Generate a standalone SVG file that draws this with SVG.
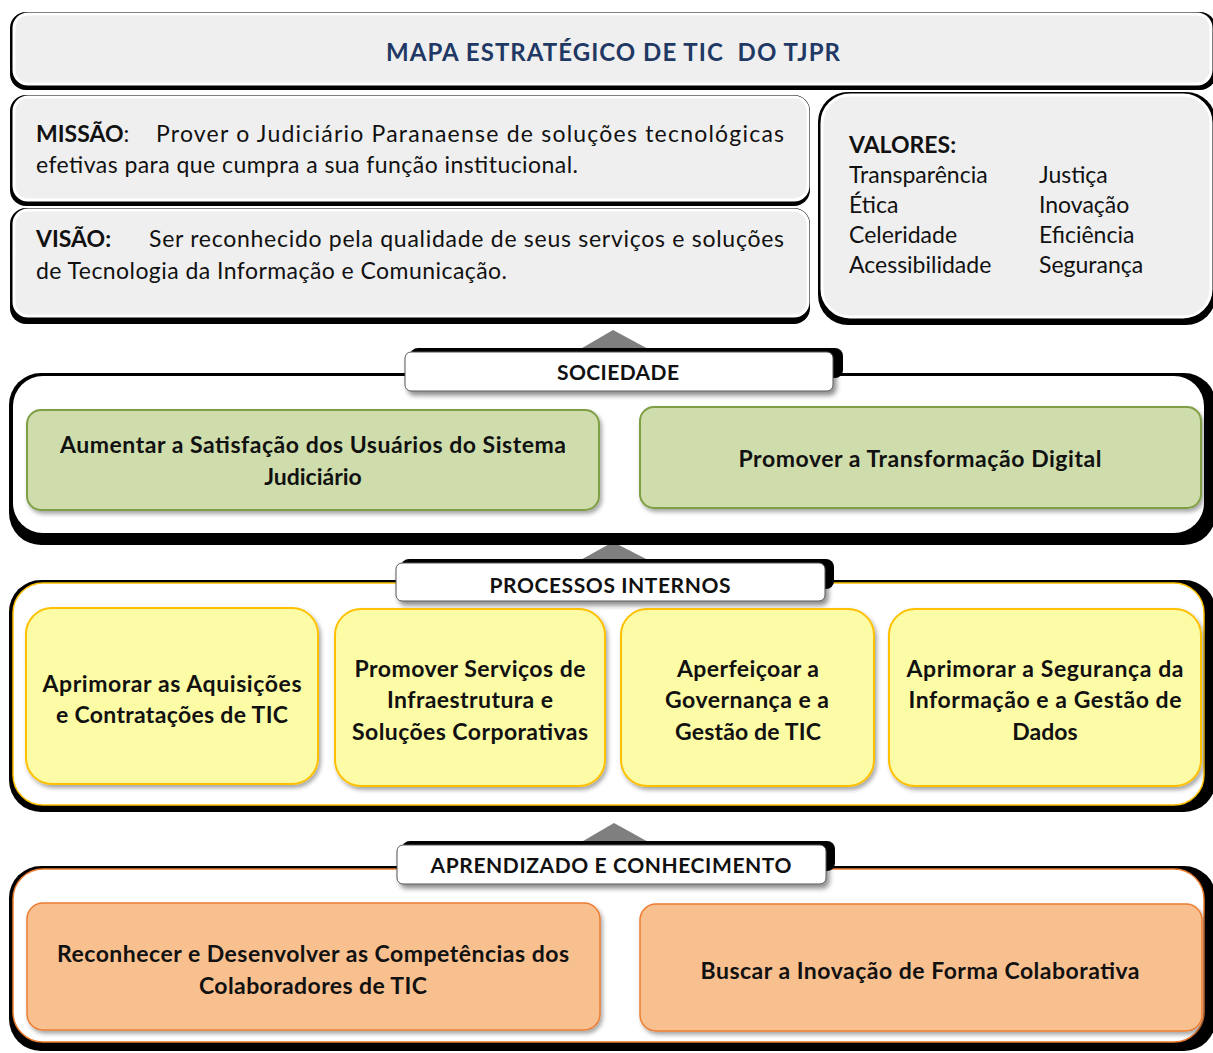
<svg xmlns="http://www.w3.org/2000/svg" width="1213" height="1053" viewBox="0 0 1213 1053">
<defs>
<filter id="soft" x="-5%" y="-10%" width="115%" height="130%">
<feDropShadow dx="2" dy="3" stdDeviation="2" flood-color="#000" flood-opacity="0.35"/>
</filter>
<filter id="lbl" x="-5%" y="-20%" width="115%" height="160%">
<feDropShadow dx="3" dy="4" stdDeviation="2.5" flood-color="#000" flood-opacity="0.45"/>
</filter>
</defs>
<style>
text{font-family:Lato,"Liberation Sans",sans-serif;fill:#111}
.b{font-weight:bold}
.t{font-size:23px}
.tb{font-size:23px;font-weight:bold}
.cap{font-size:21px;font-weight:bold}
.c{text-anchor:middle}
.sh{fill:#000}
.gray{fill:#efefef;stroke:#fff;stroke-width:3}
.panel{fill:#fff}
.lbl{fill:#fff;stroke:#555;stroke-width:1}
.green{fill:#cfddac;stroke:#7f9f45;stroke-width:2}
.yellow{fill:#fdfca6;stroke:#fec000;stroke-width:2}
.orange{fill:#f8c08f;stroke:#ec7d32;stroke-width:1.5}
.arrow{fill:#7f7f7f}
</style>
<rect width="1213" height="1053" fill="#fff"/>

<g id="header">
<rect class="sh" x="10" y="12" width="1206" height="78" rx="16"/>
<rect class="gray" x="14" y="14" width="1197" height="70" rx="14"/>
<text class="b c" x="613" y="61" font-size="24" style="fill:#1f3864" textLength="454" lengthAdjust="spacing">MAPA ESTRATÉGICO DE TIC&#160; DO TJPR</text>
</g>

<g id="missao">
<rect class="sh" x="10" y="95" width="800" height="111" rx="16"/>
<rect class="gray" x="14" y="97" width="794" height="103" rx="14"/>
<text class="t b" x="36" y="142">MISSÃO<tspan font-weight="normal">:</tspan></text>
<text class="t" x="156" y="142" textLength="628" lengthAdjust="spacing">Prover o Judiciário Paranaense de soluções tecnológicas</text>
<text class="t" x="36" y="173" textLength="542" lengthAdjust="spacing">efetivas para que cumpra a sua função institucional.</text>
</g>

<g id="visao">
<rect class="sh" x="10" y="208" width="800" height="116" rx="16"/>
<rect class="gray" x="14" y="210" width="794" height="106" rx="14"/>
<text class="t b" x="36" y="247">VISÃO:</text>
<text class="t" x="149" y="247" textLength="635" lengthAdjust="spacing">Ser reconhecido pela qualidade de seus serviços e soluções</text>
<text class="t" x="36" y="279" textLength="471" lengthAdjust="spacing">de Tecnologia da Informação e Comunicação.</text>
</g>

<g id="valores">
<rect class="sh" x="818" y="92" width="398" height="233" rx="30"/>
<rect class="gray" x="822" y="95" width="389" height="222" rx="28"/>
<text class="t b" x="849" y="153">VALORES:</text>
<text class="t" x="849" y="183">Transparência</text>
<text class="t" x="849" y="213">Ética</text>
<text class="t" x="849" y="243">Celeridade</text>
<text class="t" x="849" y="273">Acessibilidade</text>
<text class="t" x="1039" y="183">Justiça</text>
<text class="t" x="1039" y="213">Inovação</text>
<text class="t" x="1039" y="243">Eficiência</text>
<text class="t" x="1039" y="273">Segurança</text>
</g>

<g id="connectors">
<polygon class="arrow" points="577,351 613,330 652,351"/>
<polygon class="arrow" points="577,562 613,542 652,562"/>
<polygon class="arrow" points="578,844 614,823 652,844"/>
</g>

<g id="sociedade">
<rect class="sh" x="9" y="373" width="1207" height="172" rx="32"/>
<rect class="panel" x="13" y="376" width="1191" height="157" rx="30"/>
<rect class="sh" x="410" y="348" width="433" height="30" rx="8"/>
<rect class="lbl" x="405" y="352" width="428" height="39" rx="6" filter="url(#lbl)"/>
<text class="cap c" x="618" y="380" textLength="122" lengthAdjust="spacing">SOCIEDADE</text>
</g>
<g id="obj-satisfacao">
<rect class="green" x="27" y="410" width="572" height="100" rx="14" filter="url(#soft)"/>
<text class="tb c" x="313" y="453" textLength="506" lengthAdjust="spacing">Aumentar a Satisfação dos Usuários do Sistema</text>
<text class="tb c" x="313" y="485">Judiciário</text>
</g>
<g id="obj-transformacao">
<rect class="green" x="640" y="407" width="561" height="101" rx="14" filter="url(#soft)"/>
<text class="tb c" x="920" y="467" textLength="363" lengthAdjust="spacing">Promover a Transformação Digital</text>
</g>

<g id="processos">
<rect class="sh" x="9" y="580" width="1207" height="232" rx="32"/>
<rect class="panel" x="13" y="583" width="1191" height="222" rx="30" stroke="#fec000" stroke-width="1.5"/>
<rect class="sh" x="401" y="559" width="433" height="30" rx="8"/>
<rect class="lbl" x="396" y="563" width="429" height="38" rx="6" filter="url(#lbl)"/>
<text class="cap c" x="610" y="593" textLength="241" lengthAdjust="spacing">PROCESSOS INTERNOS</text>
</g>
<g id="obj-aquisicoes">
<rect class="yellow" x="26" y="608" width="292" height="176" rx="26" filter="url(#soft)"/>
<text class="tb c" x="172" y="692" textLength="259" lengthAdjust="spacing">Aprimorar as Aquisições</text>
<text class="tb c" x="172" y="723" textLength="232" lengthAdjust="spacing">e Contratações de TIC</text>
</g>
<g id="obj-infraestrutura">
<rect class="yellow" x="335" y="609" width="270" height="177" rx="26" filter="url(#soft)"/>
<text class="tb c" x="470" y="677" textLength="231" lengthAdjust="spacing">Promover Serviços de</text>
<text class="tb c" x="470" y="708" textLength="166" lengthAdjust="spacing">Infraestrutura e</text>
<text class="tb c" x="470" y="740" textLength="236" lengthAdjust="spacing">Soluções Corporativas</text>
</g>
<g id="obj-governanca">
<rect class="yellow" x="621" y="609" width="253" height="177" rx="26" filter="url(#soft)"/>
<text class="tb c" x="748" y="677" textLength="142" lengthAdjust="spacing">Aperfeiçoar a</text>
<text class="tb c" x="747" y="708" textLength="164" lengthAdjust="spacing">Governança e a</text>
<text class="tb c" x="748" y="740" textLength="146" lengthAdjust="spacing">Gestão de TIC</text>
</g>
<g id="obj-seguranca">
<rect class="yellow" x="889" y="609" width="312" height="177" rx="26" filter="url(#soft)"/>
<text class="tb c" x="1045" y="677" textLength="277" lengthAdjust="spacing">Aprimorar a Segurança da</text>
<text class="tb c" x="1045" y="708" textLength="273" lengthAdjust="spacing">Informação e a Gestão de</text>
<text class="tb c" x="1045" y="740">Dados</text>
</g>

<g id="aprendizado">
<rect class="sh" x="9" y="866" width="1207" height="185" rx="32"/>
<rect class="panel" x="13" y="869" width="1191" height="173" rx="30" stroke="#ec7d32" stroke-width="1.5"/>
<rect class="sh" x="402" y="841" width="433" height="30" rx="8"/>
<rect class="lbl" x="397" y="845" width="429" height="39" rx="6" filter="url(#lbl)"/>
<text class="cap c" x="611" y="873" textLength="361" lengthAdjust="spacing">APRENDIZADO E CONHECIMENTO</text>
</g>
<g id="obj-competencias">
<rect class="orange" x="27" y="903" width="573" height="127" rx="16" filter="url(#soft)"/>
<text class="tb c" x="313" y="962" textLength="512" lengthAdjust="spacing">Reconhecer e Desenvolver as Competências dos</text>
<text class="tb c" x="313" y="994" textLength="228" lengthAdjust="spacing">Colaboradores de TIC</text>
</g>
<g id="obj-inovacao">
<rect class="orange" x="640" y="904" width="562" height="127" rx="16" filter="url(#soft)"/>
<text class="tb c" x="920" y="979" textLength="439" lengthAdjust="spacing">Buscar a Inovação de Forma Colaborativa</text>
</g>
</svg>
